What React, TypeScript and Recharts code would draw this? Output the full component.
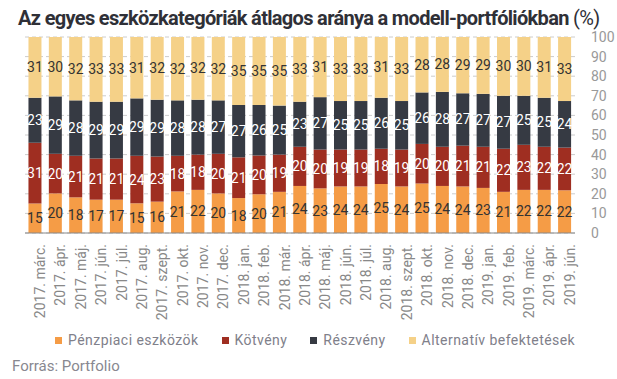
import React from 'react';
import { BarChart, Bar, XAxis, YAxis, CartesianGrid, LabelList } from 'recharts';

const categories = [
  '2017. márc.', '2017. ápr.', '2017. máj.', '2017. jún.', '2017. júl.', '2017. aug.', '2017. szept.', '2017. okt.', '2017. nov.', '2017. dec.',
  '2018. jan.', '2018. feb.', '2018. már.', '2018. ápr.', '2018. máj.', '2018. jún.', '2018. júl.', '2018. aug.', '2018. szept.', '2018. okt.', '2018. nov.', '2018. dec.',
  '2019. jan.', '2019. feb.', '2019. márc.', '2019. ápr.', '2019. jún.',
];
const penzpiaci = [15, 20, 18, 17, 17, 15, 16, 21, 22, 20, 18, 20, 21, 24, 23, 24, 24, 25, 24, 25, 24, 24, 23, 21, 22, 22, 22];
const kotveny = [31, 20, 21, 21, 21, 24, 23, 18, 18, 20, 21, 20, 19, 20, 20, 19, 19, 18, 19, 20, 20, 21, 21, 22, 23, 22, 22];
const reszveny = [23, 29, 28, 29, 29, 29, 29, 28, 28, 27, 27, 26, 25, 23, 27, 25, 25, 26, 25, 26, 28, 27, 27, 27, 25, 25, 24];
const alternativ = [31, 30, 32, 33, 33, 31, 32, 32, 32, 32, 35, 35, 35, 33, 31, 33, 33, 31, 33, 28, 28, 29, 29, 30, 30, 31, 33];
const yTicks = [0, 10, 20, 30, 40, 50, 60, 70, 80, 90, 100];

const seriesNames = ['Pénzpiaci eszközök', 'Kötvény', 'Részvény', 'Alternatív befektetések'];
const colors = ['#F59C46', '#9F2E21', '#363A43', '#F5D188'];

const data = categories.map((c, i) => ({
  name: c,
  penz: penzpiaci[i],
  kot: kotveny[i],
  resz: reszveny[i],
  alt: alternativ[i],
}));

const FONT = 'Roboto, "Noto Sans", sans-serif';

export default function App() {
  return (
    <div style={{ position: 'absolute', left: 0, top: 0, width: 617, height: 379, background: '#fff', fontFamily: FONT }}>
      <div style={{ position: 'absolute', left: 18, top: 5, fontSize: 20, lineHeight: '26px', fontWeight: 700, color: '#2f3037', whiteSpace: 'nowrap', letterSpacing: -0.68 }}>
        Az egyes eszközkategóriák átlagos aránya a modell-portfóliókban <span style={{ fontWeight: 400 }}>(%)</span>
      </div>
      <div style={{ position: 'absolute', left: 0, top: 0 }}>
        <BarChart
          width={617}
          height={330}
          data={data}
          stackOffset="expand"
          barCategoryGap="17%"
          margin={{ top: 37, right: 0, left: 25, bottom: 0 }}
        >
          <CartesianGrid vertical={false} stroke="#cccccc" strokeDasharray="4 3" />
          <XAxis
            dataKey="name"
            interval={0}
            angle={-90}
            textAnchor="end"
            height={97}
            tickLine={false}
            tickMargin={5}
            axisLine={{ stroke: '#888888' }}
            tick={{ fill: '#888888', fontSize: 14, fontFamily: FONT }}
          />
          <YAxis
            orientation="right"
            width={42}
            domain={[0, 1]}
            ticks={yTicks.map((t) => t / 100)}
            interval={0}
            tickFormatter={(v: number) => String(Math.round(v * 100))}
            axisLine={false}
            tickLine={false}
            tickMargin={10}
            tick={{ fill: '#999999', fontSize: 14, fontFamily: FONT, textAnchor: 'start' }}
          />
          <Bar dataKey="penz" stackId="a" fill={colors[0]} isAnimationActive={false}>
            <LabelList dataKey="penz" position="center" fill="#333" fontSize={14} fontFamily={FONT} />
          </Bar>
          <Bar dataKey="kot" stackId="a" fill={colors[1]} isAnimationActive={false}>
            <LabelList dataKey="kot" position="center" fill="#fff" fontSize={14} fontFamily={FONT} />
          </Bar>
          <Bar dataKey="resz" stackId="a" fill={colors[2]} isAnimationActive={false}>
            <LabelList dataKey="resz" position="center" fill="#fff" fontSize={14} fontFamily={FONT} />
          </Bar>
          <Bar dataKey="alt" stackId="a" fill={colors[3]} isAnimationActive={false}>
            <LabelList dataKey="alt" position="center" fill="#333" fontSize={14} fontFamily={FONT} />
          </Bar>
        </BarChart>
      </div>
      <div style={{ position: 'absolute', left: 55, top: 331, display: 'flex', fontSize: 14, lineHeight: '18px', color: '#80808a', letterSpacing: 0.45, whiteSpace: 'nowrap' }}>
        {seriesNames.map((n, i) => (
          <div key={n} style={{ display: 'flex', alignItems: 'center', marginRight: i < 3 ? 23 : 0 }}>
            <span style={{ display: 'inline-block', width: 7, height: 7, background: colors[i], marginRight: 6 }} />
            <span>{n}</span>
          </div>
        ))}
      </div>
      <div style={{ position: 'absolute', left: 12, top: 356, fontSize: 15, lineHeight: '20px', color: '#888890' }}>Forrás: Portfolio</div>
    </div>
  );
}
